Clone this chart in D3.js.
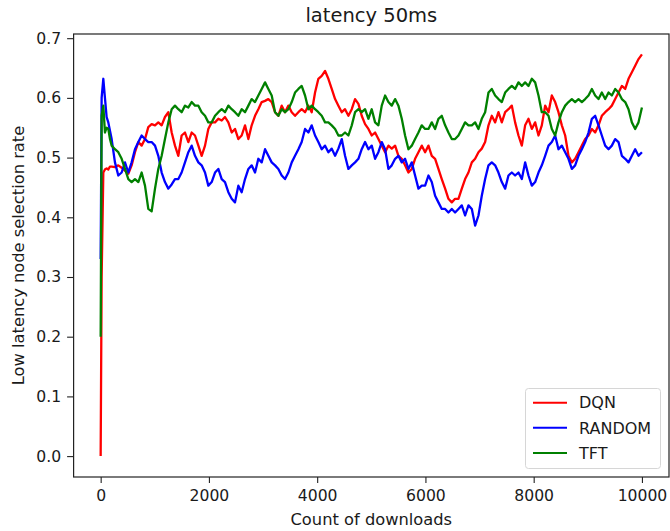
<!DOCTYPE html>
<html>
<head>
<meta charset="utf-8">
<script src="https://cdn.jsdelivr.net/npm/d3@7"></script>
<style>
body { margin: 0; background: #fff; }
svg { display: block; font-family: "DejaVu Sans", sans-serif; }
</style>
</head>
<body>
<svg id="vis" width="670" height="531"></svg>
<script>
// x values (count of downloads)
const downloads = [
    0, 18, 49, 79, 110, 141, 172, 203, 264, 326, 388, 449, 511, 572, 634,
    696, 757, 819, 880, 942, 1004, 1065, 1127, 1188, 1250, 1312, 1373, 1435, 1496, 1558, 1620, 1681, 1743, 1805, 1866,
    1928, 1989, 2051, 2113, 2174, 2236, 2297, 2359, 2421, 2482, 2544, 2605, 2667, 2729, 2790, 2852, 2913, 2975, 3037,
    3098, 3160, 3222, 3283, 3345, 3406, 3468, 3530, 3591, 3653, 3714, 3776, 3838, 3899, 3961, 4022, 4084, 4146, 4207,
    4269, 4331, 4392, 4454, 4515, 4577, 4639, 4700, 4762, 4823,
    4885, 4947, 5008, 5070, 5131, 5193, 5255, 5316, 5378, 5440, 5501, 5563, 5624, 5686, 5748, 5809, 5871, 5932, 5994,
    6056, 6117, 6179, 6240, 6302, 6364, 6425, 6487, 6548, 6610, 6672, 6733, 6795, 6857, 6918, 6980, 7041, 7103, 7165,
    7226, 7288, 7349, 7411, 7473, 7534, 7596, 7657, 7719, 7781, 7842, 7904, 7966, 8027, 8089, 8150, 8212, 8274, 8335,
    8397, 8458, 8520, 8582, 8643, 8705, 8766, 8828, 8890, 8951, 9013, 9075, 9136, 9198, 9259, 9321, 9383, 9444, 9506,
    9567, 9629, 9691, 9752, 9814, 9875, 9937, 10000
]

const dqnRate = [
    0.0, 0.30, 0.475, 0.48, 0.482, 0.48, 0.485, 0.485, 0.484, 0.487, 0.483, 0.478, 0.473, 0.487, 0.509,
    0.526, 0.52, 0.531, 0.551, 0.556, 0.554, 0.559, 0.554, 0.568, 0.576,
    0.542, 0.52, 0.503, 0.537, 0.542, 0.526, 0.542, 0.537, 0.52, 0.503,
    0.52, 0.548, 0.559, 0.559, 0.565, 0.562, 0.568, 0.559, 0.542, 0.548,
    0.531, 0.537, 0.554, 0.531, 0.554, 0.570, 0.581, 0.593, 0.595, 0.598,
    0.593, 0.576, 0.570, 0.587, 0.576, 0.587, 0.576, 0.570, 0.576, 0.581,
    0.576, 0.587, 0.576, 0.609, 0.632, 0.637, 0.645, 0.632, 0.615, 0.598,
    0.587, 0.576, 0.581, 0.570, 0.581, 0.598, 0.590, 0.570,
    0.556, 0.548, 0.537, 0.542, 0.531, 0.52, 0.509, 0.52, 0.515, 0.52,
    0.503, 0.498, 0.487, 0.475, 0.481, 0.498, 0.509, 0.52, 0.509, 0.52,
    0.503, 0.498, 0.481, 0.464, 0.448, 0.431, 0.425, 0.431, 0.431, 0.448,
    0.464, 0.475, 0.492, 0.498, 0.509, 0.515, 0.526, 0.554, 0.570, 0.559,
    0.576, 0.559, 0.576, 0.581, 0.587, 0.559, 0.537, 0.52, 0.554, 0.565,
    0.548, 0.559, 0.537, 0.554, 0.587, 0.576, 0.604, 0.593, 0.576, 0.554,
    0.537, 0.503, 0.492, 0.498, 0.509, 0.52, 0.531, 0.537, 0.548, 0.542,
    0.554, 0.570, 0.576, 0.581, 0.587, 0.598, 0.609, 0.620, 0.615, 0.632,
    0.643, 0.654, 0.665, 0.673
]

const randomRate = [
    0.33, 0.60, 0.632, 0.60, 0.568, 0.559, 0.545, 0.531, 0.492, 0.47, 0.475, 0.492, 0.475, 0.492, 0.514,
    0.526, 0.537, 0.531, 0.526, 0.526, 0.52, 0.503, 0.475, 0.459, 0.448,
    0.455, 0.464, 0.464, 0.475, 0.492, 0.509, 0.52, 0.503, 0.492, 0.487,
    0.475, 0.453, 0.459, 0.475, 0.481, 0.464, 0.459, 0.442, 0.431, 0.425,
    0.453, 0.442, 0.464, 0.481, 0.487, 0.475, 0.498, 0.492, 0.514, 0.503,
    0.492, 0.487, 0.481, 0.47, 0.464, 0.475, 0.492, 0.503, 0.514, 0.526,
    0.548, 0.542, 0.554, 0.537, 0.526, 0.514, 0.52, 0.509, 0.515, 0.503,
    0.515, 0.531, 0.503, 0.481, 0.487, 0.492, 0.498, 0.514,
    0.526, 0.514, 0.52, 0.498, 0.509, 0.526, 0.514, 0.481, 0.487, 0.498,
    0.503, 0.492, 0.498, 0.481, 0.492, 0.47, 0.448, 0.453, 0.453, 0.47,
    0.459, 0.436, 0.425, 0.414, 0.414, 0.408, 0.414, 0.408, 0.414, 0.42,
    0.403, 0.42, 0.414, 0.386, 0.403, 0.436, 0.464, 0.487, 0.492, 0.487,
    0.475, 0.459, 0.448, 0.47, 0.475, 0.47, 0.475, 0.464, 0.492, 0.47,
    0.453, 0.459, 0.475, 0.487, 0.503, 0.52, 0.526, 0.537, 0.514, 0.52,
    0.509, 0.498, 0.481, 0.487, 0.503, 0.514, 0.526, 0.542, 0.565, 0.570,
    0.554, 0.537, 0.52, 0.514, 0.52, 0.531, 0.526, 0.503, 0.498, 0.492,
    0.503, 0.514, 0.503, 0.509
]

const tftRate = [
    0.20, 0.57, 0.587, 0.542, 0.55, 0.548, 0.531, 0.52, 0.514, 0.509, 0.498, 0.481, 0.464, 0.459, 0.464,
    0.459, 0.475, 0.453, 0.414, 0.41, 0.448, 0.481, 0.503, 0.531, 0.559,
    0.581, 0.587, 0.581, 0.576, 0.587, 0.584, 0.593, 0.587, 0.587, 0.576,
    0.57, 0.559, 0.559, 0.57, 0.576, 0.581, 0.576, 0.587, 0.581, 0.576,
    0.57, 0.581, 0.576, 0.587, 0.598, 0.593, 0.604, 0.615, 0.626, 0.615,
    0.604, 0.576, 0.57, 0.581, 0.576, 0.581, 0.593, 0.609, 0.615, 0.62,
    0.604, 0.581, 0.587, 0.581, 0.576, 0.57, 0.559, 0.559, 0.554, 0.548,
    0.537, 0.537, 0.542, 0.537, 0.554, 0.576, 0.581, 0.576,
    0.581, 0.565, 0.581, 0.559, 0.554, 0.587, 0.604, 0.593, 0.587, 0.598,
    0.587, 0.565, 0.537, 0.514, 0.52, 0.531, 0.542, 0.554, 0.548, 0.548,
    0.559, 0.548, 0.565, 0.57, 0.554, 0.542, 0.531, 0.531, 0.537, 0.548,
    0.559, 0.554, 0.554, 0.559, 0.548, 0.565, 0.576, 0.609, 0.615, 0.604,
    0.598, 0.593, 0.609, 0.615, 0.62, 0.615, 0.626, 0.62, 0.626, 0.62,
    0.632, 0.626, 0.604, 0.576, 0.576, 0.57, 0.548, 0.537, 0.559, 0.576,
    0.587, 0.593, 0.598, 0.593, 0.598, 0.593, 0.598, 0.604, 0.615, 0.604,
    0.598, 0.609, 0.598, 0.609, 0.604, 0.615, 0.609, 0.598, 0.593, 0.581,
    0.559, 0.548, 0.559, 0.584
]

const seriesNames = ["DQN", "RANDOM", "TFT"]
const seriesColors = ["#ff0000", "#0000ff", "#008000"]

const xTicks = [0, 2000, 4000, 6000, 8000, 10000]
const yTicks = [0.0, 0.1, 0.2, 0.3, 0.4, 0.5, 0.6, 0.7]

var drawPlot = function() {
    let margin = {
        top: 34,
        right: 1,
        bottom: 54,
        left: 73.6
    };

    let svg = d3.select("body").select("#vis");
    let width = +svg.attr("width");
    let height = +svg.attr("height");
    let plotWidth = width - margin.left - margin.right;
    let plotHeight = height - margin.top - margin.bottom;

    // matplotlib style 5% margins
    let xScale = d3.scaleLinear()
        .domain([-500, 10500])
        .range([margin.left, margin.left + plotWidth]);

    let yScale = d3.scaleLinear()
        .domain([-0.035, 0.707])
        .range([margin.top + plotHeight, margin.top]);

    let series = [dqnRate, randomRate, tftRate];

    let line = d3.line()
        .x(function(d, i) { return xScale(downloads[i]); })
        .y(function(d) { return yScale(d); });

    svg.selectAll("path.series")
        .data(series)
        .enter()
        .append("path")
        .attr("class", "series")
        .attr("d", line)
        .attr("fill", "none")
        .attr("stroke", function(d, i) { return seriesColors[i]; })
        .attr("stroke-width", 2.3)
        .attr("stroke-linejoin", "round");

    let xAxis = d3.axisBottom(xScale)
        .tickValues(xTicks)
        .tickFormat(d3.format("d"))
        .tickSize(6)
        .tickPadding(7);

    let yAxis = d3.axisLeft(yScale)
        .tickValues(yTicks)
        .tickFormat(d3.format(".1f"))
        .tickSize(6.5)
        .tickPadding(6);

    let xGroup = svg.append("g")
        .attr("id", "x-axis")
        .attr("transform", "translate(0," + (margin.top + plotHeight) + ")")
        .call(xAxis);

    let yGroup = svg.append("g")
        .attr("id", "y-axis")
        .attr("transform", "translate(" + margin.left + ",0)")
        .call(yAxis);

    [xGroup, yGroup].forEach(function(g) {
        g.select(".domain").remove();
        g.selectAll("line").attr("stroke", "#222").attr("stroke-width", 1.1);
        g.selectAll("text")
            .attr("fill", "#1a1a1a")
            .style("font-size", "15.6px")
            .style("font-family", "DejaVu Sans");
    });

    // spines
    svg.append("rect")
        .attr("x", margin.left)
        .attr("y", margin.top)
        .attr("width", plotWidth)
        .attr("height", plotHeight)
        .attr("fill", "none")
        .attr("stroke", "#222")
        .attr("stroke-width", 1.2);

    svg.append("text")
        .attr("x", margin.left + plotWidth / 2)
        .attr("y", 22)
        .attr("text-anchor", "middle")
        .attr("fill", "#1a1a1a")
        .style("font-size", "19.5px")
        .text("latency 50ms");

    svg.append("text")
        .attr("x", margin.left + plotWidth / 2)
        .attr("y", 525)
        .attr("text-anchor", "middle")
        .attr("fill", "#1a1a1a")
        .style("font-size", "16.3px")
        .text("Count of downloads");

    svg.append("text")
        .attr("transform", "translate(24," + (margin.top + plotHeight / 2) + ") rotate(-90)")
        .attr("text-anchor", "middle")
        .attr("fill", "#1a1a1a")
        .style("font-size", "16.3px")
        .text("Low latency node selection rate");

    // legend
    let legend = svg.append("g").attr("id", "legend");
    legend.append("rect")
        .attr("x", 525.5)
        .attr("y", 388.5)
        .attr("width", 135)
        .attr("height", 80)
        .attr("rx", 3)
        .attr("fill", "#fff")
        .attr("fill-opacity", 0.8)
        .attr("stroke", "#d6d6d6")
        .attr("stroke-width", 1);

    let items = legend.selectAll("g.item")
        .data(seriesNames)
        .enter()
        .append("g")
        .attr("class", "item")
        .attr("transform", function(d, i) { return "translate(533," + (402.7 + i * 25.1) + ")"; });

    items.append("line")
        .attr("x1", 0)
        .attr("x2", 34)
        .attr("stroke", function(d, i) { return seriesColors[i]; })
        .attr("stroke-width", 2);

    items.append("text")
        .attr("x", 46)
        .attr("dy", "0.36em")
        .attr("fill", "#1a1a1a")
        .style("font-size", "16px")
        .text(function(d) { return d; });
}

drawPlot();
</script>
</body>
</html>
